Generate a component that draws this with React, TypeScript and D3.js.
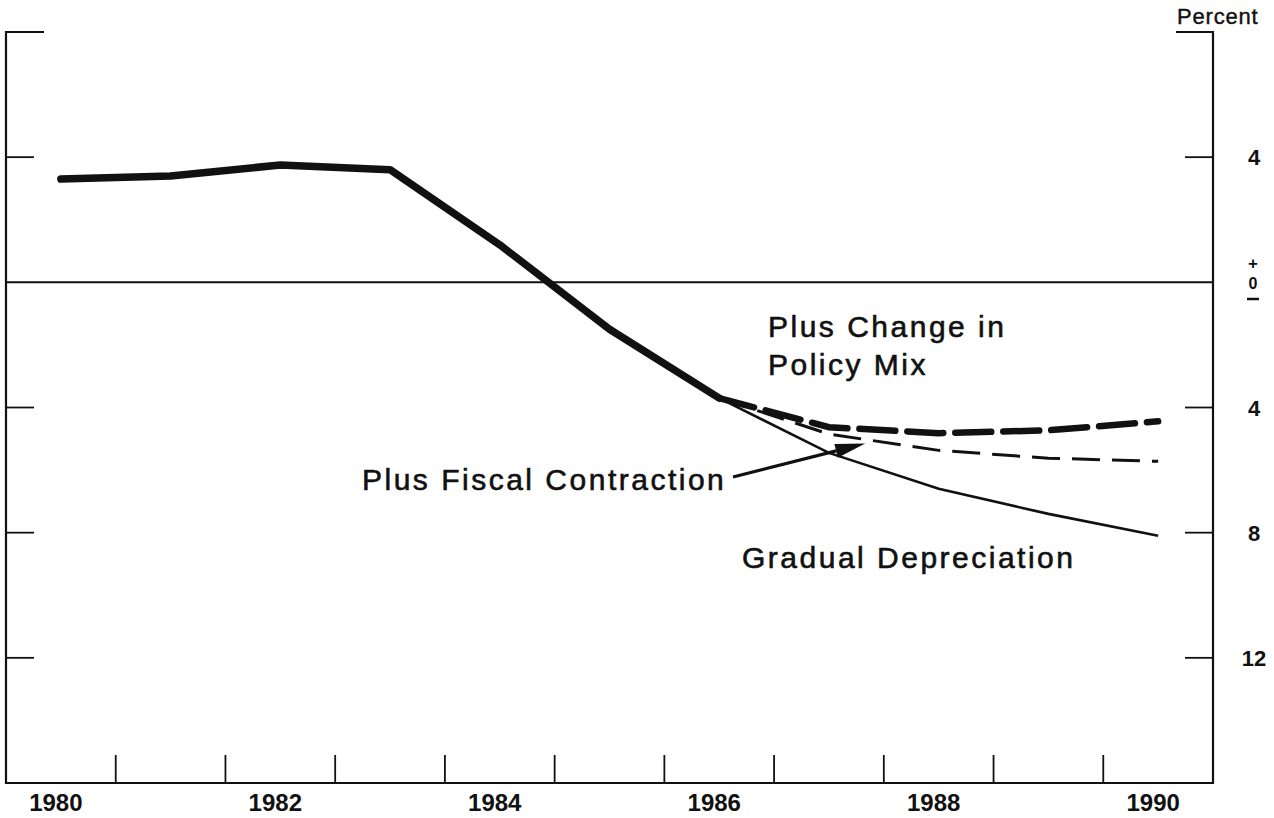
import { useRef, useEffect } from "react";
import * as d3 from "d3";

// Years shown on the bottom axis
const labelYears = [1980, 1982, 1984, 1986, 1988, 1990];

// History, shared by all scenarios (percent, + above zero)
const baseYears = [1980, 1981, 1982, 1983, 1984, 1985, 1986];
const baseValues = [3.3, 3.4, 3.75, 3.6, 1.2, -1.5, -3.7];

// Projections
const projYears = [1986, 1987, 1988, 1989, 1990];
const gradualDepreciation = [-3.7, -5.45, -6.6, -7.4, -8.1];
const fiscalContraction = [-3.7, -4.85, -5.37, -5.62, -5.72];
const policyMix = [-3.7, -4.63, -4.82, -4.73, -4.44];

// Right axis ticks; labels printed without sign
const yTicks = [4, -4, -8, -12];

const WIDTH = 1274;
const HEIGHT = 818;

export default function App() {
  const ref = useRef<SVGSVGElement>(null);

  useEffect(() => {
    if (!ref.current) return;
    const svg = d3.select(ref.current);
    svg.selectAll("*").remove();

    const left = 6;
    const right = 1213;
    const top = 32;
    const bottom = 783;

    const x = d3.scaleLinear().domain([1979.5, 1990.5]).range([left, right]);
    const y = d3.scaleLinear().domain([-16, 8]).range([bottom, top]);

    const font = "'Liberation Sans', Arial, Helvetica, sans-serif";

    // Frame: left, bottom, right and short top stubs
    const frame = svg.append("g").attr("stroke", "#111").attr("stroke-width", 2.2).attr("fill", "none");
    frame
      .append("path")
      .attr("d", `M${left + 38},${top} H${left} V${bottom} H${right} V${top} H${right - 37}`);

    // Zero line
    frame
      .append("line")
      .attr("x1", left)
      .attr("x2", right)
      .attr("y1", y(0))
      .attr("y2", y(0))
      .attr("stroke-width", 2);

    // Y ticks on both sides
    yTicks.forEach((t) => {
      frame.append("line").attr("x1", left).attr("x2", left + 28).attr("y1", y(t)).attr("y2", y(t)).attr("stroke-width", 1.8);
      frame.append("line").attr("x1", right - 28).attr("x2", right).attr("y1", y(t)).attr("y2", y(t)).attr("stroke-width", 1.8);
    });

    // X ticks at year boundaries
    d3.range(1980.5, 1990.5, 1).forEach((b) => {
      frame.append("line").attr("x1", x(b)).attr("x2", x(b)).attr("y1", bottom).attr("y2", bottom - 28).attr("stroke-width", 1.8);
    });

    // X labels
    svg
      .append("g")
      .selectAll("text")
      .data(labelYears)
      .join("text")
      .attr("x", (d) => x(d) - 5)
      .attr("y", 811)
      .attr("text-anchor", "middle")
      .attr("font-family", font)
      .attr("font-weight", "bold")
      .attr("font-size", 24)
      .attr("fill", "#111")
      .text((d) => String(d));

    // Y labels
    svg
      .append("g")
      .selectAll("text")
      .data(yTicks)
      .join("text")
      .attr("x", 1254)
      .attr("y", (d) => y(d) + 8)
      .attr("text-anchor", "middle")
      .attr("font-family", font)
      .attr("font-weight", "bold")
      .attr("font-size", 22)
      .attr("fill", "#111")
      .text((d) => String(Math.abs(d)));

    // Stacked "+ 0 −" at zero
    const zero = svg
      .append("g")
      .attr("font-family", font)
      .attr("font-weight", "bold")
      .attr("font-size", 16)
      .attr("fill", "#111")
      .attr("text-anchor", "middle");
    zero.append("text").attr("x", 1253).attr("y", 269).attr("font-size", 17).text("+");
    zero.append("text").attr("x", 1253).attr("y", 289).text("0");
    svg
      .append("line")
      .attr("x1", 1247)
      .attr("x2", 1259)
      .attr("y1", 299)
      .attr("y2", 299)
      .attr("stroke", "#111")
      .attr("stroke-width", 2.5);

    svg
      .append("text")
      .attr("x", 1177)
      .attr("y", 24)
      .attr("font-family", font)
      .attr("font-size", 22)
      .attr("letter-spacing", 0.8)
      .attr("fill", "#111")
      .attr("stroke", "#111")
      .attr("stroke-width", 0.4)
      .text("Percent");

    const line = d3
      .line<[number, number]>()
      .x((d) => x(d[0]))
      .y((d) => y(d[1]));

    const zip = (xs: number[], vs: number[]) => xs.map((v, i) => [v, vs[i]] as [number, number]);

    // Gradual depreciation (solid thin)
    svg
      .append("path")
      .attr("d", line(zip(projYears, gradualDepreciation)))
      .attr("fill", "none")
      .attr("stroke", "#111")
      .attr("stroke-width", 2.6);

    // Plus fiscal contraction (thin dashed)
    svg
      .append("path")
      .attr("d", line(zip(projYears, fiscalContraction)))
      .attr("fill", "none")
      .attr("stroke", "#111")
      .attr("stroke-width", 3)
      .attr("stroke-dasharray", "28 12");

    // Plus change in policy mix (heavy dashed)
    svg
      .append("path")
      .attr("d", line(zip(projYears, policyMix)))
      .attr("fill", "none")
      .attr("stroke", "#111")
      .attr("stroke-width", 6.5)
      .attr("stroke-linecap", "round")
      .attr("stroke-dasharray", "36 12");

    // History (heavy solid)
    svg
      .append("path")
      .attr("d", line(zip(baseYears, baseValues)))
      .attr("fill", "none")
      .attr("stroke", "#111")
      .attr("stroke-width", 7.5)
      .attr("stroke-linecap", "round")
      .attr("stroke-linejoin", "round");

    // Annotations
    const ann = svg
      .append("g")
      .attr("font-family", font)
      .attr("font-size", 30)
      .attr("letter-spacing", 2.5)
      .attr("fill", "#111")
      .attr("stroke", "#111")
      .attr("stroke-width", 0.6);
    ann.append("text").attr("x", 768).attr("y", 337).text("Plus Change in");
    ann.append("text").attr("x", 768).attr("y", 375).text("Policy Mix");
    ann.append("text").attr("x", 362).attr("y", 490).text("Plus Fiscal Contraction");
    ann.append("text").attr("x", 742).attr("y", 568).text("Gradual Depreciation");

    // Arrow from label to the fiscal contraction line
    const sx = 733;
    const sy = 477;
    const tx = x(1987.33);
    const ty = y(-5.15);
    const ang = Math.atan2(ty - sy, tx - sx);
    const hl = 30;
    const hw = 7;
    const bx = tx - hl * Math.cos(ang);
    const by = ty - hl * Math.sin(ang);
    svg
      .append("line")
      .attr("x1", sx)
      .attr("y1", sy)
      .attr("x2", bx)
      .attr("y2", by)
      .attr("stroke", "#111")
      .attr("stroke-width", 3.2);
    svg
      .append("path")
      .attr(
        "d",
        `M${tx},${ty} L${bx + hw * Math.sin(ang)},${by - hw * Math.cos(ang)} L${bx - hw * Math.sin(ang)},${by + hw * Math.cos(ang)} Z`
      )
      .attr("fill", "#111");
  }, []);

  return (
    <svg
      ref={ref}
      width={WIDTH}
      height={HEIGHT}
      style={{ position: "absolute", left: 0, top: 0, background: "#fff" }}
    />
  );
}
